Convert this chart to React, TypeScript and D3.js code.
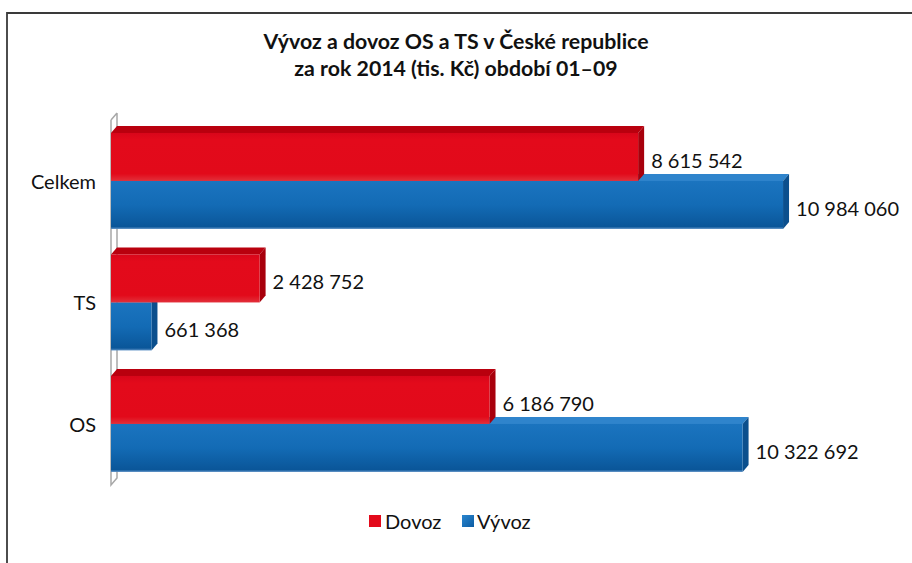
import React from "react";
import * as d3 from "d3";

const categories = ["Celkem", "TS", "OS"];
const seriesNames = ["Dovoz", "Vývoz"];
const dovoz = [8615542, 2428752, 6186790];
const vyvoz = [10984060, 661368, 10322692];
const titleLines = ["Vývoz a dovoz OS a TS v České republice", "za rok 2014 (tis. Kč) období 01–09"];

const W = 912;
const H = 563;
const DX = 6;
const DY = 7;
const FONT = "Lato, 'Open Sans', sans-serif";

const fmt = (v: number) => d3.format(",")(v).replace(/,/g, " ");

export default function App() {
  const x = d3.scaleLinear().domain([0, 12000000]).range([111, 111 + 734.2]);
  const y = d3
    .scaleBand<string>()
    .domain(categories)
    .range([120.2, 484.7])
    .paddingInner(0.21)
    .paddingOuter(0.105);
  const ys = d3.scaleBand<string>().domain(seriesNames).range([0, y.bandwidth()]);
  const values = [dovoz, vyvoz];
  const x0 = x(0);

  const bars: any[] = [];
  categories.forEach((c, ci) => {
    seriesNames.forEach((s, si) => {
      const v = values[si][ci];
      const top = (y(c) as number) + (ys(s) as number);
      const h = ys.bandwidth();
      const xe = x(v);
      bars.push({ c, s, si, v, top, h, xe });
    });
  });
  const order = [...bars].sort((a, b) => b.si - a.si);

  return (
    <svg
      width={W}
      height={H}
      style={{ position: "absolute", left: 0, top: 0, background: "#fff" }}
    >
      <defs>
        <linearGradient id="gRed" x1="0" y1="0" x2="0" y2="1">
          <stop offset="0" stopColor="#d8061a" />
          <stop offset="0.15" stopColor="#e30a1b" />
          <stop offset="0.85" stopColor="#e20a1a" />
          <stop offset="1" stopColor="#e2303a" />
        </linearGradient>
        <linearGradient id="gBlue" x1="0" y1="0" x2="0" y2="1">
          <stop offset="0" stopColor="#1b74bf" />
          <stop offset="0.5" stopColor="#136bb5" />
          <stop offset="0.95" stopColor="#0a5699" />
          <stop offset="1" stopColor="#5a8fc4" />
        </linearGradient>
        <linearGradient id="gBlueLeg" x1="0" y1="0" x2="1" y2="1">
          <stop offset="0" stopColor="#2a86cf" />
          <stop offset="1" stopColor="#0c5ca3" />
        </linearGradient>
      </defs>

      {/* frame */}
      <path d={`M7,${H} L7,13 L${W},13`} fill="none" stroke="#3a3a3a" strokeWidth={1.8} />

      {/* title */}
      {titleLines.map((t, i) => (
        <text
          key={i}
          x={456}
          y={49 + i * 26.5}
          textAnchor="middle"
          fontFamily={FONT}
          fontWeight={700}
          fontSize={21.3}
          fill="#111"
        >
          {t}
        </text>
      ))}

      {/* 3D wall */}
      <path
        d={`M${x0},120 L${x0 + DX},113 M${x0 + DX},113 L${x0 + DX},478 L${x0},485 L${x0},120`}
        fill="none"
        stroke="#a8a8a8"
        strokeWidth={1.5}
      />

      {/* bars */}
      {order.map((b, i) => {
        const red = b.si === 0;
        const front = red ? "url(#gRed)" : "url(#gBlue)";
        const topC = red ? "#b9000e" : "#2f84cc";
        const sideC = red ? "#a8000c" : "#0b4f8d";
        const bot = b.top + b.h;
        return (
          <g key={i}>
            <path
              d={`M${x0},${b.top} L${x0 + DX},${b.top - DY} L${b.xe + DX},${b.top - DY} L${b.xe},${b.top} Z`}
              fill={topC}
            />
            <path
              d={`M${b.xe},${b.top} L${b.xe + DX},${b.top - DY} L${b.xe + DX},${bot - DY} L${b.xe},${bot} Z`}
              fill={sideC}
            />
            <rect x={x0} y={b.top} width={b.xe - x0} height={b.h} fill={front} />
          </g>
        );
      })}

      {/* value labels */}
      {bars.map((b, i) => (
        <text
          key={"l" + i}
          x={b.xe + 13}
          y={b.top + b.h / 2 + 3}
          dominantBaseline="central"
          fontFamily={FONT}
          fontSize={20}
          fill="#111"
        >
          {fmt(b.v)}
        </text>
      ))}

      {/* category labels */}
      {categories.map((c) => (
        <text
          key={c}
          x={96}
          y={(y(c) as number) + y.bandwidth() / 2}
          dominantBaseline="central"
          textAnchor="end"
          fontFamily={FONT}
          fontSize={20}
          fill="#111"
        >
          {c}
        </text>
      ))}

      {/* legend */}
      <rect x={369} y={515} width={12} height={12} fill="#e30a1b" />
      <text x={385} y={529} fontFamily={FONT} fontSize={20} fill="#111">
        {seriesNames[0]}
      </text>
      <rect x={462} y={515} width={12} height={12} fill="url(#gBlueLeg)" />
      <text x={477} y={529} fontFamily={FONT} fontSize={20} fill="#111">
        {seriesNames[1]}
      </text>
    </svg>
  );
}
